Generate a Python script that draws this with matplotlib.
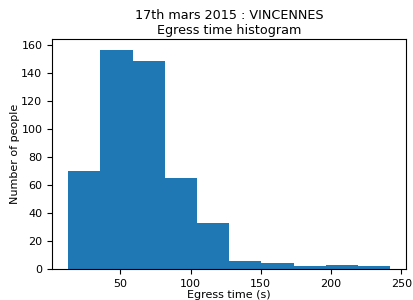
import numpy as np
import matplotlib
matplotlib.use("Agg")
import matplotlib.pyplot as plt

# histogram
bin_lo = 13.0
bin_hi = 242.0
counts = [70, 156, 148, 65, 33, 6, 4, 2, 3, 2]

edges = np.linspace(bin_lo, bin_hi, len(counts) + 1)
centers = (edges[:-1] + edges[1:]) / 2

fig = plt.figure(figsize=(4.14, 3.0), dpi=100)
ax = fig.add_subplot(111)
fig.subplots_adjust(left=0.126, right=0.981, top=0.869, bottom=0.103)

ax.hist(centers, bins=edges, weights=counts, color="#1f77b4")
ax.set_title("17th mars 2015 : VINCENNES\nEgress time histogram", fontsize=9.2, pad=4)
ax.set_xlabel("Egress time (s)", fontsize=8, labelpad=1)
ax.set_ylabel("Number of people", fontsize=8, labelpad=1)
ax.tick_params(labelsize=8)

fig.savefig("out.png", dpi=100)
